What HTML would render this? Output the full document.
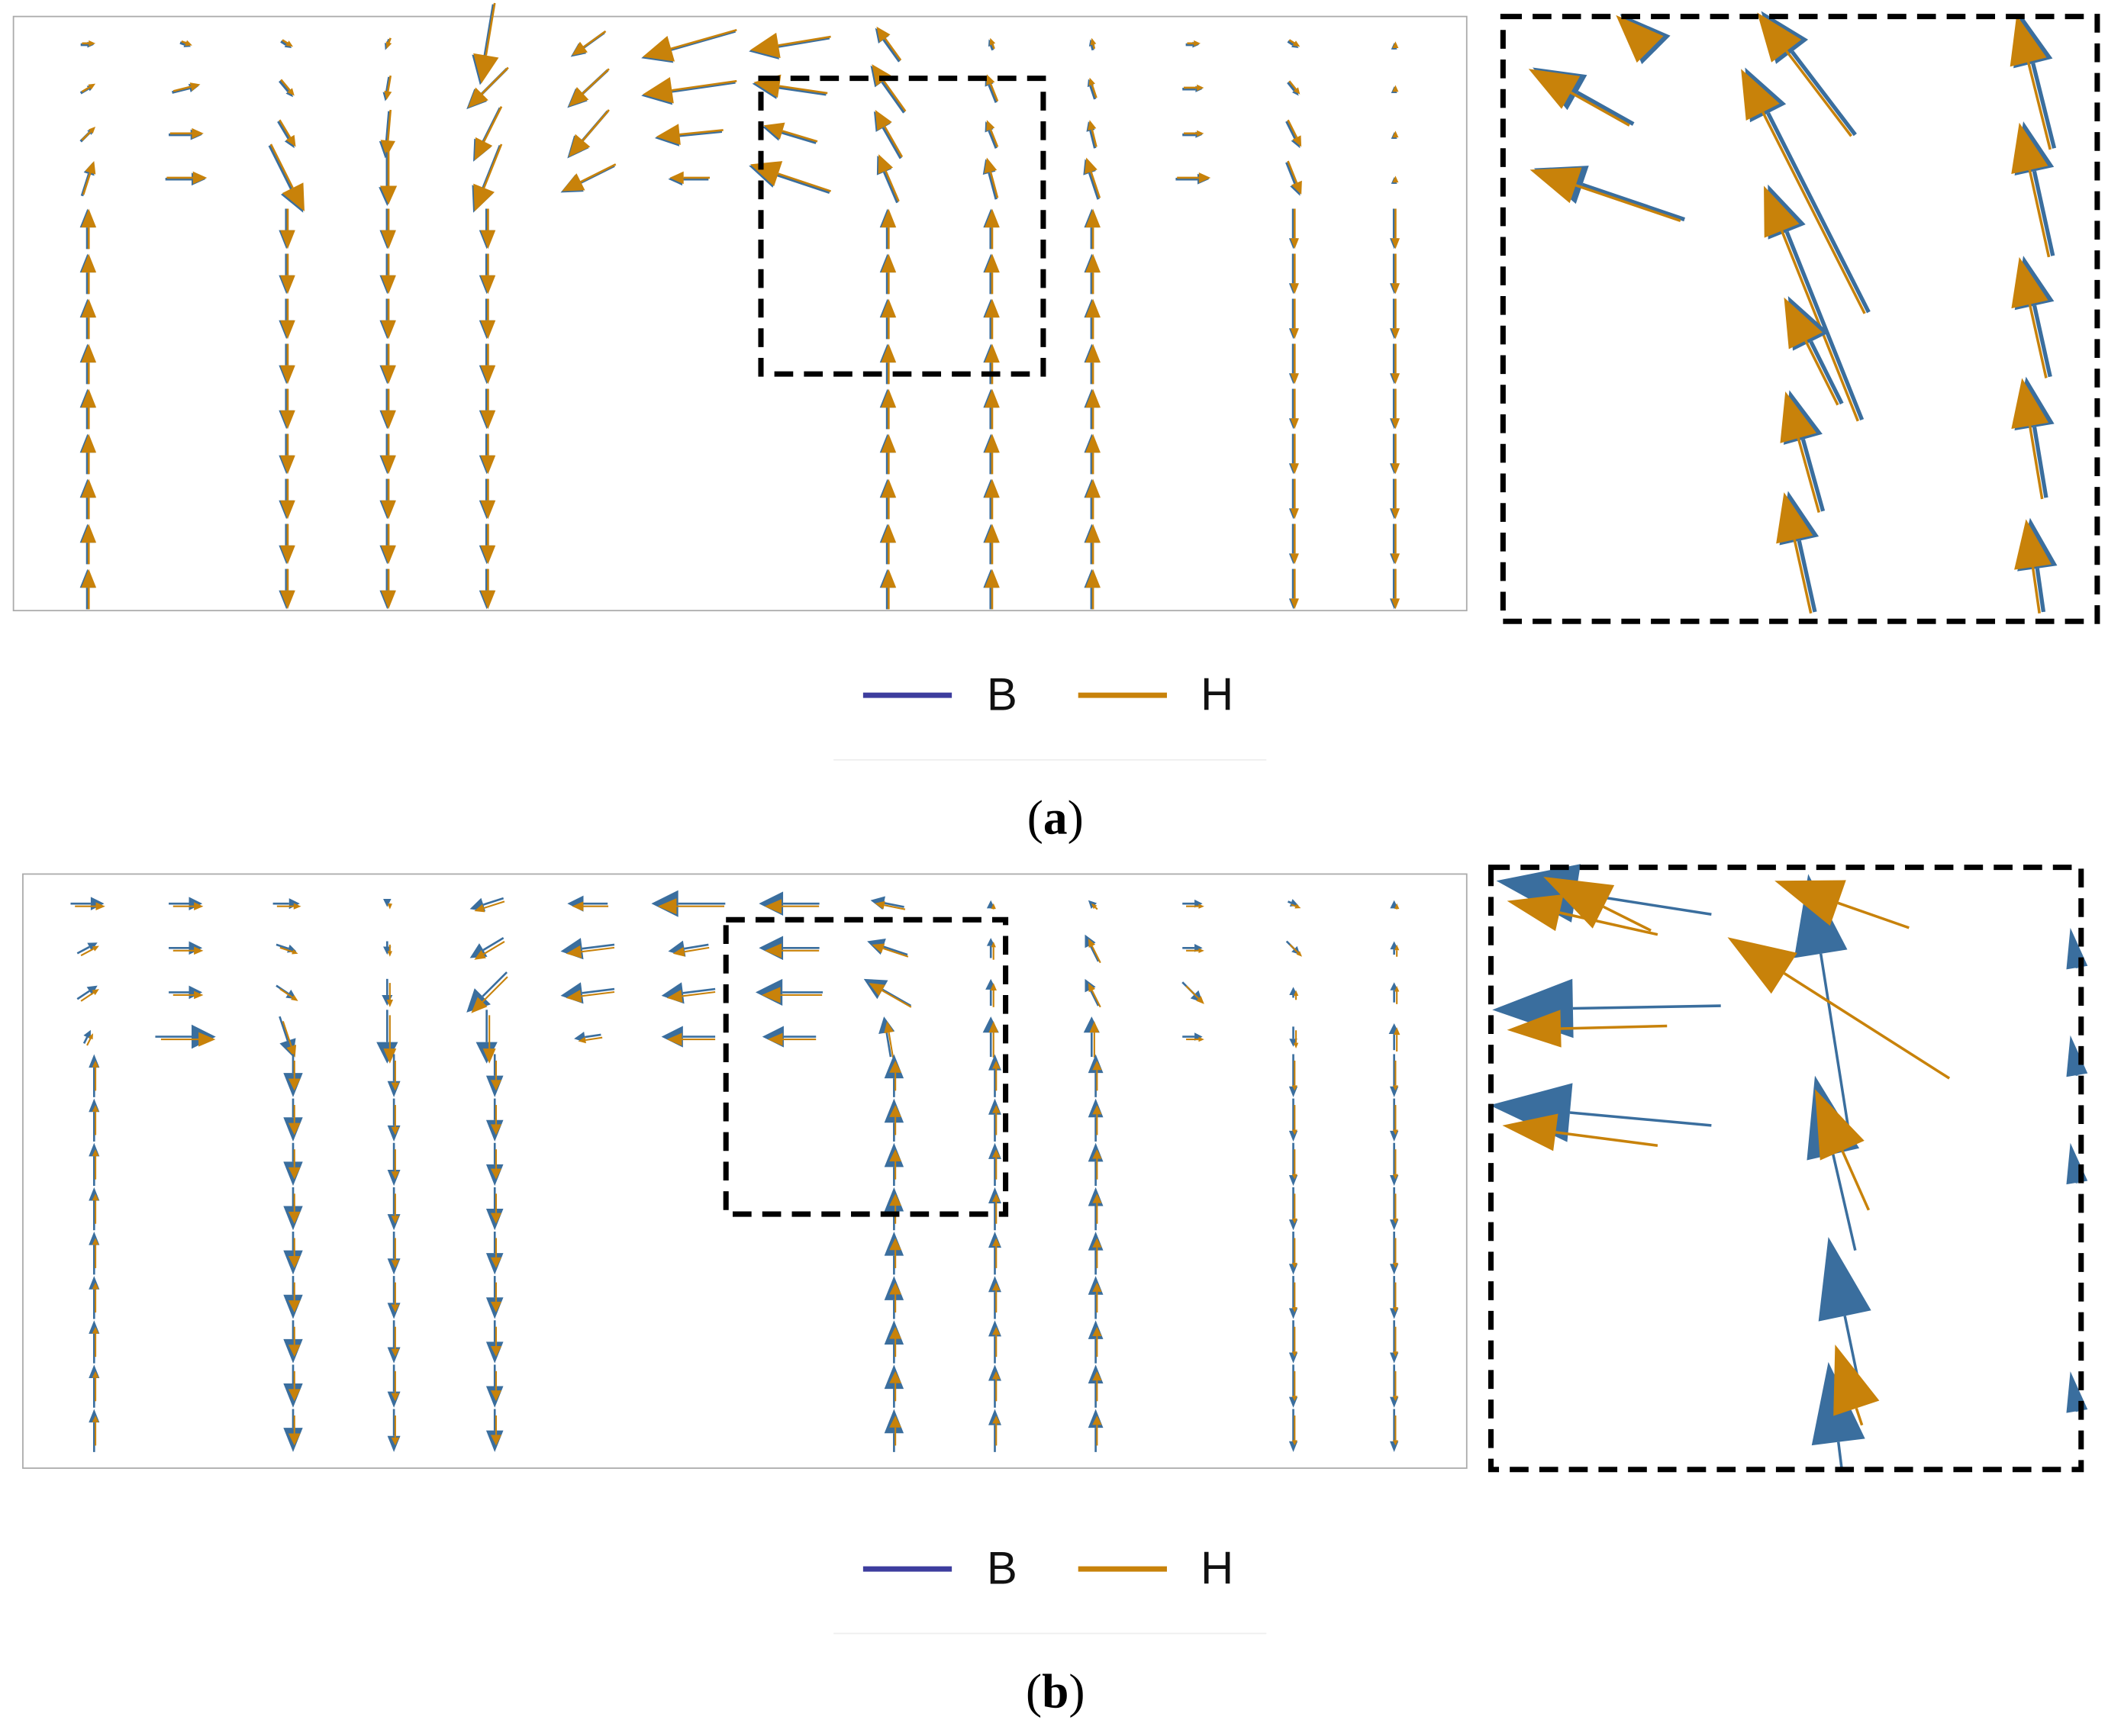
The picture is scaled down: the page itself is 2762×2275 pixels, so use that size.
<!DOCTYPE html>
<html><head><meta charset="utf-8">
<style>
html,body{margin:0;padding:0;background:#fff;}
svg{display:block;}
text{font-family:"Liberation Serif",serif;}
</style></head>
<body>
<svg id="s" width="2762" height="2275" viewBox="0 0 1568 1291" xmlns="http://www.w3.org/2000/svg">
<rect width="1568" height="1291" fill="#fff"/>
<!-- frames -->
<rect x="10" y="12" width="1081" height="442" fill="none" stroke="#aaa" stroke-width="1"/>
<rect x="17" y="650" width="1074" height="442" fill="none" stroke="#aaa" stroke-width="1"/>
<g id="arrows"></g>
<!-- dashed boxes -->
<g fill="none" stroke="#000" stroke-width="4" stroke-dasharray="14,8">
<rect x="566" y="58" width="210" height="220"/>
<rect x="1118" y="12" width="442" height="450"/>
<rect x="540" y="684" width="208" height="219"/>
<rect x="1109" y="645" width="439" height="448"/>
</g>
<!-- legends -->
<line x1="620" y1="565" x2="942" y2="565" stroke="#eee" stroke-width="1"/>
<line x1="642" y1="517" x2="708" y2="517" stroke="#3d3d9e" stroke-width="4"/>
<text x="734" y="528" font-family="Liberation Sans,sans-serif" font-size="34" fill="#111" style="font-family:'Liberation Sans',sans-serif">B</text>
<line x1="802" y1="517" x2="868" y2="517" stroke="#c8820a" stroke-width="4"/>
<text x="893" y="528" font-size="34" fill="#111" style="font-family:'Liberation Sans',sans-serif">H</text>
<text x="785" y="620" font-size="36" text-anchor="middle" fill="#000">(<tspan font-weight="bold">a</tspan>)</text>
<line x1="620" y1="1215" x2="942" y2="1215" stroke="#eee" stroke-width="1"/>
<line x1="642" y1="1167" x2="708" y2="1167" stroke="#3d3d9e" stroke-width="4"/>
<text x="734" y="1178" font-size="34" fill="#111" style="font-family:'Liberation Sans',sans-serif">B</text>
<line x1="802" y1="1167" x2="868" y2="1167" stroke="#c8820a" stroke-width="4"/>
<text x="893" y="1178" font-size="34" fill="#111" style="font-family:'Liberation Sans',sans-serif">H</text>
<text x="785" y="1270" font-size="36" text-anchor="middle" fill="#000">(<tspan font-weight="bold">b</tspan>)</text>
</svg>
<script>
var g=document.getElementById('arrows'),NS='http://www.w3.org/2000/svg';
var O='#c8820a',B='#3a6e9e';
function ar(x,y,dx,dy,c,hl,hw,lw){
 var L=Math.hypot(dx,dy); if(L<0.1)return; var ux=dx/L,uy=dy/L;
 var ex=x+dx,ey=y+dy,bx=ex-ux*hl,by=ey-uy*hl;
 var l=document.createElementNS(NS,'line');
 l.setAttribute('x1',x);l.setAttribute('y1',y);l.setAttribute('x2',bx);l.setAttribute('y2',by);
 l.setAttribute('stroke',c);l.setAttribute('stroke-width',lw||1.5);g.appendChild(l);
 var p=document.createElementNS(NS,'polygon');
 p.setAttribute('points',ex+','+ey+' '+(bx-uy*hw)+','+(by+ux*hw)+' '+(bx+uy*hw)+','+(by-ux*hw));
 p.setAttribute('fill',c);g.appendChild(p);
}
// centered arrow helper
function ca(cx,cy,dx,dy,c,hl,hw,lw){ar(cx-dx/2,cy-dy/2,dx,dy,c,hl,hw,lw);}
var cols=[65,138,213,288,362,437,512,587,660,737,812,887,962,1037];
// panel a top rows
var topA={65:[[10,0],[10,-6],[10,-10],[8,-25]],138:[[8,3],[20,-5],[25,0],[30,0]],213:[[8,5],[10,12],[12,20],[25,50]],
288:[[-3,8],[-3,18],[-3,35],[0,40]],362:[[-10,60],[-30,30],[-20,40],[-20,50]],437:[[-25,18],[-30,28],[-30,35],[-40,20]],
512:[[-70,20],[-70,10],[-50,5],[-30,0]],587:[[-60,10],[-55,-8],[-40,-12],[-60,-20]],660:[[-18,-25],[-25,-35],[-20,-35],[-15,-35]],
737:[[-3,-8],[-8,-20],[-8,-20],[-8,-30]],812:[[-2,-8],[-5,-15],[-5,-20],[-10,-30]],887:[[10,0],[15,0],[15,0],[25,0]],
962:[[8,5],[8,10],[10,20],[10,25]],1037:[[0,-3],[0,-4],[0,-4],[0,-3]]};
var rowsA=[33,66,100,133];
for(var k in topA){topA[k].forEach(function(v,i){var s=Math.hypot(v[0],v[1]);var hl=Math.min(22,Math.max(5,s*0.35)),hw=hl*0.45;
 ca(+k,rowsA[i],v[0],v[1],B,hl,hw,2);ca(+k+1,rowsA[i]-1,v[0],v[1],O,hl,hw,1.5);});}
// panel a vertical columns
var vA={65:-1,213:1,288:1,362:1,660:-1,737:-1,812:-1,962:1,1037:1};
for(var k in vA){for(var y=170;y<=440;y+=33.5){var d=vA[k]*30;var hl=k==962||k==1037?8:14;
 ca(+k,y,0,d,B,hl,hl*0.4,2);ca(+k+1,y,0,d,O,hl,hl*0.4,1.5);}}
// panel b top rows
var rowsB=[672,705,738,771];
var topB={65:[[25,0],[15,-8],[15,-10],[5,-10]],138:[[25,0],[25,0],[25,0],[45,0]],213:[[20,0],[15,5],[15,10],[10,30]],
288:[[0,5],[0,10],[0,20],[0,40]],362:[[-25,8],[-25,15],[-30,30],[0,40]],437:[[-30,0],[-40,5],[-40,5],[-20,3]],
512:[[-55,0],[-30,5],[-40,5],[-40,0]],587:[[-45,0],[-45,0],[-50,0],[-40,0]],660:[[-25,-5],[-30,-10],[-35,-20],[-5,-30]],
737:[[0,-5],[0,-15],[0,-20],[0,-30]],812:[[-5,-5],[-10,-20],[-10,-20],[0,-30]],887:[[15,0],[15,0],[15,15],[15,0]],
962:[[8,3],[10,10],[0,-8],[0,15]],1037:[[0,-5],[0,-10],[0,-15],[0,-20]]};
for(var k in topB){topB[k].forEach(function(v,i){var s=Math.hypot(v[0],v[1]);var hl=Math.min(20,Math.max(6,s*0.4)),hw=hl*0.5;
 ca(+k,rowsB[i],v[0],v[1],B,hl,hw,1.5);ca(+k+2,rowsB[i]+2,v[0]*0.9,v[1]*0.9,O,hl*0.7,hw*0.6,1.2);});}
var vB={70:[-1,10],218:[1,18],293:[1,12],368:[1,16],665:[-1,18],740:[-1,12],815:[-1,14],962:[1,8],1037:[1,8]};
for(var k in vB){for(var y=800;y<=1085;y+=33){var d=vB[k][0]*32,hl=vB[k][1];
 ca(+k,y,0,d,B,hl,hl*0.4,1.5);ca(+k+1,y,0,d*0.7,O,hl*0.5,hl*0.25,1.2);}}
// inset a
[[1215,92,-75,-42],[1253,163,-112,-38],[1380,100,-70,-92],[1390,232,-92,-182],[1385,312,-70,-175],[1370,300,-40,-80],[1356,380,-25,-90],[1350,455,-20,-90],[1528,110,-25,-100],[1527,190,-22,-100],[1525,280,-20,-90],[1522,370,-15,-90],[1520,455,-10,-70],[1225,30,-20,-20]].forEach(function(a){
 ar(a[0],a[1],a[2],a[3],B,38,15,3);ar(a[0]-3,a[1]+1,a[2],a[3],O,36,14,2);});
// inset b
[[1273,680,-160,-25],[1280,748,-170,3],[1273,837,-165,-15]].forEach(function(a){ar(a[0],a[1],a[2],a[3],B,60,22,2);ar(a[0]-40,a[1]+15,a[2]*0.7,a[3],O,40,14,2);});
[[1375,840,-30,-190],[1380,930,-30,-130],[1385,1040,-25,-120],[1370,1093,-10,-80]].forEach(function(a){ar(a[0],a[1],a[2],a[3],B,60,20,2);});
[[1450,802,-165,-105],[1420,690,-100,-35],[1390,900,-40,-90],[1385,1060,-20,-60],[1228,692,-80,-40]].forEach(function(a){ar(a[0],a[1],a[2],a[3],O,50,18,2);});
[720,800,880,1050].forEach(function(y){ar(1545,y,-5,-30,B,30,8,2);});
</script>
</body></html>
